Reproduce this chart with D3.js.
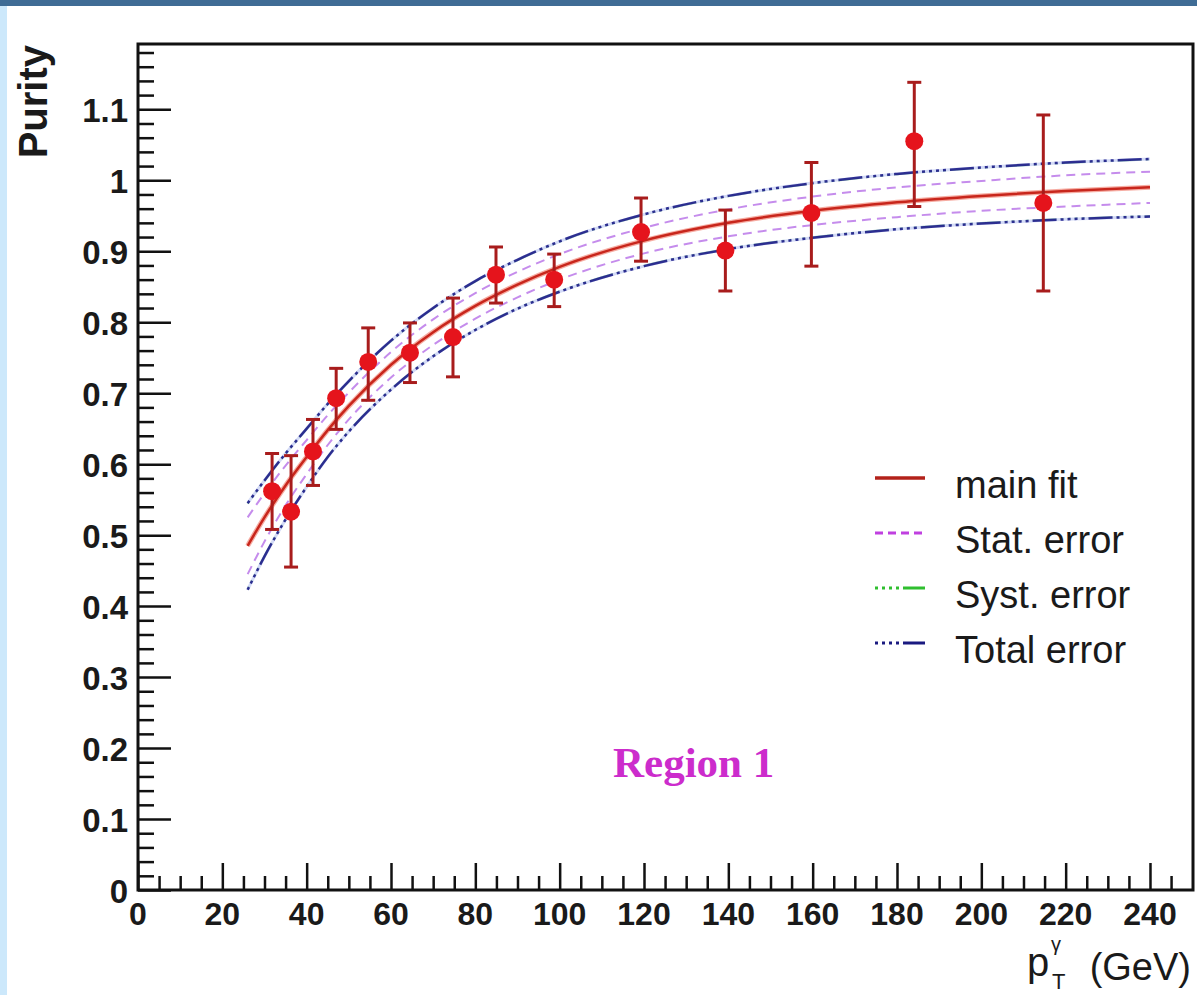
<!DOCTYPE html>
<html>
<head>
<meta charset="utf-8">
<script src="https://cdn.jsdelivr.net/npm/d3@7"></script>
<style>
  html, body { margin: 0; padding: 0; background: #ffffff; }
  svg { display: block; }
</style>
</head>
<body>
<svg id="chart" width="1197" height="995"></svg>
<script>
// ---- measured points: photon pT (GeV) and purity with error-bar ends ----
const ptPoints   = [31.8, 36.3, 41.5, 47.0, 54.6, 64.5, 74.7, 84.9, 98.7, 119.3, 139.3, 159.7, 184.1, 214.7];
const purity     = [0.562, 0.533, 0.618, 0.693, 0.744, 0.757, 0.779, 0.867, 0.860, 0.927, 0.901, 0.954, 1.055, 0.968];
const purityHigh = [0.615, 0.612, 0.663, 0.735, 0.792, 0.799, 0.834, 0.906, 0.896, 0.975, 0.958, 1.025, 1.138, 1.092];
const purityLow  = [0.508, 0.455, 0.570, 0.649, 0.690, 0.715, 0.723, 0.827, 0.822, 0.886, 0.844, 0.879, 0.963, 0.844];

// ---- fit curve and its error bands, sampled along pT ----
const ptCurve   = [26, 30, 35, 40, 45, 50, 60, 70, 80, 90, 100, 120, 140, 160, 180, 200, 220, 240];
const mainFit   = [0.485, 0.525, 0.570, 0.610, 0.648, 0.682, 0.740, 0.786, 0.823, 0.853, 0.878, 0.915, 0.940, 0.957, 0.969, 0.978, 0.985, 0.990];
const statUpper = [0.525, 0.559, 0.598, 0.634, 0.669, 0.701, 0.758, 0.804, 0.841, 0.871, 0.896, 0.933, 0.959, 0.977, 0.990, 0.999, 1.007, 1.012];
const statLower = [0.445, 0.491, 0.542, 0.586, 0.627, 0.663, 0.722, 0.768, 0.805, 0.835, 0.860, 0.897, 0.921, 0.937, 0.948, 0.957, 0.963, 0.968];
const systUpper = [0.544, 0.576, 0.614, 0.649, 0.684, 0.716, 0.773, 0.819, 0.857, 0.887, 0.913, 0.951, 0.977, 0.995, 1.008, 1.017, 1.024, 1.029];
const systLower = [0.424, 0.471, 0.523, 0.569, 0.611, 0.647, 0.706, 0.753, 0.790, 0.820, 0.844, 0.880, 0.904, 0.920, 0.932, 0.940, 0.946, 0.950];
const totUpper  = [0.545, 0.577, 0.615, 0.650, 0.685, 0.717, 0.774, 0.820, 0.858, 0.888, 0.914, 0.952, 0.978, 0.996, 1.009, 1.018, 1.025, 1.030];
const totLower  = [0.423, 0.470, 0.522, 0.568, 0.610, 0.646, 0.705, 0.752, 0.789, 0.819, 0.843, 0.879, 0.903, 0.919, 0.931, 0.939, 0.945, 0.949];

// ---- axis ticks ----
const xMajorTicks = [0, 20, 40, 60, 80, 100, 120, 140, 160, 180, 200, 220, 240];
const yMajorTicks = [0, 0.1, 0.2, 0.3, 0.4, 0.5, 0.6, 0.7, 0.8, 0.9, 1.0, 1.1];
const yTickLabels = ["0", "0.1", "0.2", "0.3", "0.4", "0.5", "0.6", "0.7", "0.8", "0.9", "1", "1.1"];

// ---- legend entries ----
const legendLabels = ["main fit", "Stat. error", "Syst. error", "Total error"];

const svg = d3.select("#chart");

// page decoration: header bar and left strip
svg.append("rect").attr("x", 0).attr("y", 0).attr("width", 1197).attr("height", 6).attr("fill", "#3f6c95");
svg.append("rect").attr("x", 0).attr("y", 6).attr("width", 7).attr("height", 989).attr("fill", "#cce8fb");

const plot = { left: 138, right: 1193, top: 44, bottom: 890 };

const x = d3.scaleLinear().domain([0, 250.2]).range([plot.left, plot.right]);
const y = d3.scaleLinear().domain([0, 1.192]).range([plot.bottom, plot.top]);

// ---- inner ticks (ticks point into the frame) ----
const xAxisMajor = d3.axisTop(x).tickValues(xMajorTicks).tickSize(27).tickFormat("");
const xAxisMinor = d3.axisTop(x).tickValues(d3.range(5, 250, 5).filter(v => v % 20 !== 0)).tickSize(14).tickFormat("");
const yAxisMajor = d3.axisRight(y).tickValues(yMajorTicks).tickSize(33).tickFormat("");
const yAxisMinor = d3.axisRight(y).tickValues(d3.range(1, 60).map(i => +(i * 0.02).toFixed(2)).filter(v => Math.round(v * 100) % 10 !== 0 && v < 1.19)).tickSize(16).tickFormat("");

function styleAxis(g) {
  g.select(".domain").remove();
  g.selectAll(".tick line").attr("stroke", "#111").attr("stroke-width", 2.5);
}
svg.append("g").attr("transform", `translate(0,${plot.bottom})`).call(xAxisMajor).call(styleAxis);
svg.append("g").attr("transform", `translate(0,${plot.bottom})`).call(xAxisMinor).call(styleAxis);
svg.append("g").attr("transform", `translate(${plot.left},0)`).call(yAxisMajor).call(styleAxis);
svg.append("g").attr("transform", `translate(${plot.left},0)`).call(yAxisMinor).call(styleAxis);

// ---- tick labels ----
const labelFont = "'Liberation Sans', Arial, sans-serif";
svg.append("g").selectAll("text").data(xMajorTicks).join("text")
  .attr("x", d => x(d)).attr("y", 925)
  .attr("text-anchor", "middle")
  .attr("font-family", labelFont).attr("font-weight", "bold").attr("font-size", 32)
  .attr("fill", "#1a1a1a")
  .text(d => d);

svg.append("g").selectAll("text").data(yMajorTicks).join("text")
  .attr("x", 128).attr("y", d => y(d) + 13)
  .attr("text-anchor", "end")
  .attr("font-family", labelFont).attr("font-weight", "bold").attr("font-size", 33)
  .attr("fill", "#1a1a1a")
  .text((d, i) => yTickLabels[i]);

// ---- axis titles ----
svg.append("text")
  .attr("transform", "translate(47,45) rotate(-90)")
  .attr("text-anchor", "end")
  .attr("font-family", labelFont).attr("font-weight", "bold").attr("font-size", 40)
  .attr("fill", "#1a1a1a")
  .text("Purity");

const xt = svg.append("g").attr("font-family", labelFont).attr("fill", "#1a1a1a");
xt.append("text").attr("x", 1027).attr("y", 976).attr("font-size", 40).text("p");
xt.append("text").attr("x", 1051).attr("y", 951).attr("font-size", 20).text("γ");
xt.append("text").attr("x", 1052).attr("y", 989).attr("font-size", 22).text("T");
xt.append("text").attr("x", 1191).attr("y", 980).attr("text-anchor", "end").attr("font-size", 38).text("(GeV)");

// ---- fit curve and bands ----
const lineGen = vals => d3.line()
  .x((d, i) => x(ptCurve[i]))
  .y(d => y(d))
  .curve(d3.curveMonotoneX)(vals);

const dotDash = "3,4,3,4,3,4,3,4,24,4";
const curves = [
  { vals: statUpper, stroke: "#b266e6", width: 2, dash: "9,6", opacity: 0.75 },
  { vals: statLower, stroke: "#b266e6", width: 2, dash: "9,6", opacity: 0.75 },
  { vals: systUpper, stroke: "#7fd87f", width: 1.5, dash: dotDash, opacity: 0.6 },
  { vals: systLower, stroke: "#7fd87f", width: 1.5, dash: dotDash, opacity: 0.6 },
  { vals: totUpper, stroke: "#9fb0ee", width: 3, dash: null, opacity: 0.45 },
  { vals: totLower, stroke: "#9fb0ee", width: 3, dash: null, opacity: 0.45 },
  { vals: totUpper, stroke: "#1c1c86", width: 2.5, dash: dotDash, opacity: 0.9 },
  { vals: totLower, stroke: "#1c1c86", width: 2.5, dash: dotDash, opacity: 0.9 },
  { vals: mainFit, stroke: "#ee5a46", width: 5, dash: null, opacity: 0.5 },
  { vals: mainFit, stroke: "#c8261c", width: 2.5, dash: null, opacity: 1 }
];
svg.append("g").selectAll("path").data(curves).join("path")
  .attr("d", d => lineGen(d.vals))
  .attr("fill", "none")
  .attr("stroke", d => d.stroke)
  .attr("stroke-width", d => d.width)
  .attr("stroke-dasharray", d => d.dash)
  .attr("stroke-opacity", d => d.opacity);

// ---- error bars ----
const capHalf = 7;
const eb = svg.append("g").attr("stroke", "#a81c1c").attr("stroke-width", 3);
ptPoints.forEach((pt, i) => {
  eb.append("line").attr("x1", x(pt)).attr("x2", x(pt)).attr("y1", y(purityHigh[i])).attr("y2", y(purityLow[i]));
  eb.append("line").attr("x1", x(pt) - capHalf).attr("x2", x(pt) + capHalf).attr("y1", y(purityHigh[i])).attr("y2", y(purityHigh[i]));
  eb.append("line").attr("x1", x(pt) - capHalf).attr("x2", x(pt) + capHalf).attr("y1", y(purityLow[i])).attr("y2", y(purityLow[i]));
});

// ---- markers ----
svg.append("g").selectAll("circle").data(ptPoints).join("circle")
  .attr("cx", d => x(d)).attr("cy", (d, i) => y(purity[i]))
  .attr("r", 9)
  .attr("fill", "#e5141c");

// ---- frame ----
svg.append("rect")
  .attr("x", plot.left).attr("y", plot.top)
  .attr("width", plot.right - plot.left).attr("height", plot.bottom - plot.top)
  .attr("fill", "none").attr("stroke", "#111").attr("stroke-width", 3);

// ---- legend ----
const legendY = [478, 533, 588, 643];
const legendStyles = [
  { stroke: "#b3221a", width: 3.5, dash: null },
  { stroke: "#c040e0", width: 3, dash: "8,5" },
  { stroke: "#2fbf2f", width: 3, dash: "3,4,3,4,3,4,3,4,28,4" },
  { stroke: "#1a1a80", width: 3, dash: "3,4,3,4,3,4,3,4,28,4" }
];
const lg = svg.append("g");
legendLabels.forEach((lab, i) => {
  lg.append("line")
    .attr("x1", 875).attr("x2", 925).attr("y1", legendY[i]).attr("y2", legendY[i])
    .attr("stroke", legendStyles[i].stroke).attr("stroke-width", legendStyles[i].width)
    .attr("stroke-dasharray", legendStyles[i].dash);
  lg.append("text")
    .attr("x", 955).attr("y", legendY[i] + 20)
    .attr("font-family", labelFont).attr("font-size", 38).attr("fill", "#1a1a1a")
    .text(lab);
});

// ---- region tag ----
svg.append("text")
  .attr("x", 613).attr("y", 777)
  .attr("font-family", "'Liberation Serif', 'Times New Roman', serif")
  .attr("font-weight", "bold").attr("font-size", 43)
  .attr("fill", "#cc2ccc")
  .text("Region 1");
</script>
</body>
</html>
